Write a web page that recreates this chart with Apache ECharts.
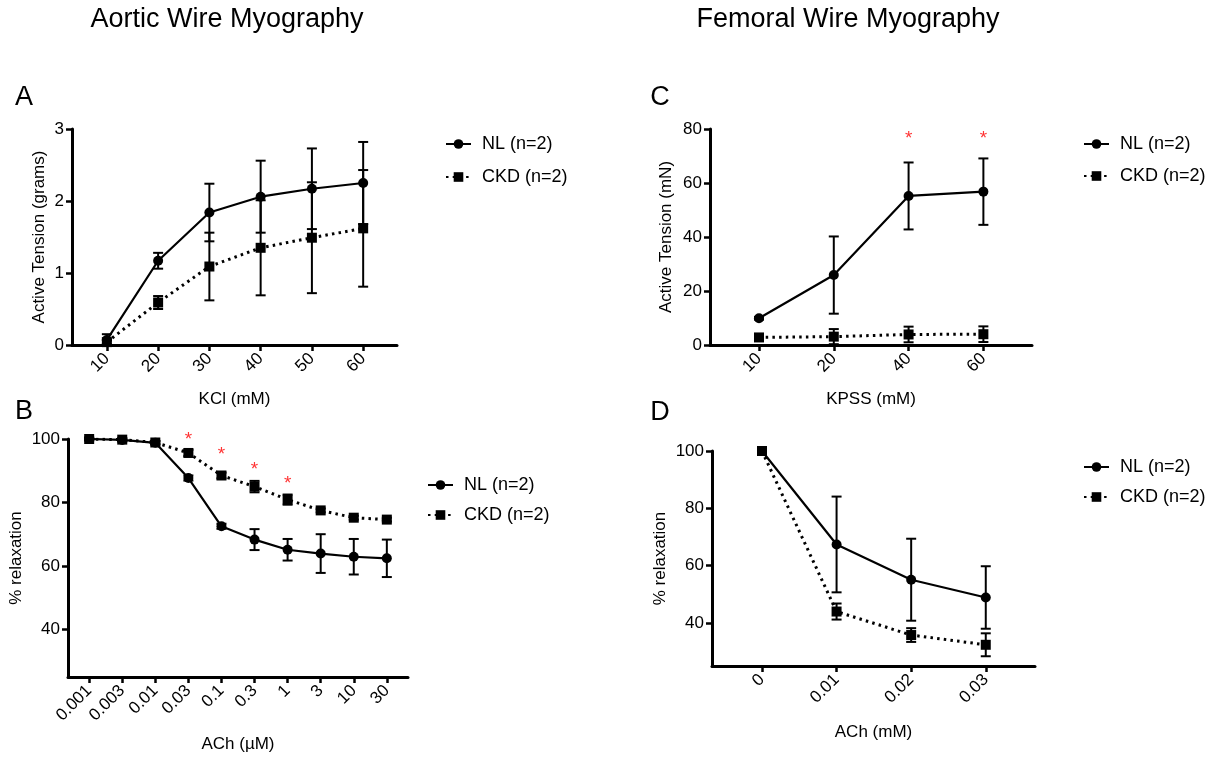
<!DOCTYPE html>
<html>
<head>
<meta charset="utf-8">
<script src="https://cdn.jsdelivr.net/npm/echarts@6/dist/echarts.min.js"></script>
<style>
html, body {margin: 0; padding: 0; background: #fff;}
#chart {width: 1219px; height: 759px;}
</style>
</head>
<body>
<div id="chart"></div>
<script>
// A - aortic KCl
var kclLabels = ['10', '20', '30', '40', '50', '60'];
var kclNL = [0.07, 1.17, 1.84, 2.06, 2.17, 2.25];
var kclNLErr = [0.08, 0.11, 0.40, 0.50, 0.56, 0.57];
var kclCKD = [0.04, 0.59, 1.09, 1.35, 1.49, 1.62];
var kclCKDErr = [0.03, 0.09, 0.47, 0.66, 0.77, 0.81];

// B - aortic ACh
var achLabelsB = ['0.001', '0.003', '0.01', '0.03', '0.1', '0.3', '1', '3', '10', '30'];
var achNLB = [100, 99.7, 98.8, 87.7, 72.5, 68.3, 65.1, 63.9, 62.9, 62.4];
var achNLBErr = [0.4, 0.5, 0.6, 0.8, 0.8, 3.3, 3.4, 6.1, 5.6, 5.9];
var achCKDB = [100, 99.8, 98.9, 95.6, 88.5, 85.0, 80.9, 77.5, 75.2, 74.6];
var achCKDBErr = [0.4, 0.4, 0.5, 1.0, 0.9, 1.8, 1.6, 0.6, 0.6, 0.6];
var starsB = [[3, 101.4], [4, 96.6], [5, 91.9], [6, 87.5]];

// C - femoral KPSS
var kpssLabels = ['10', '20', '40', '60'];
var kpssNL = [9.9, 25.9, 55.2, 56.8];
var kpssNLErr = [0.5, 14.3, 12.4, 12.3];
var kpssCKD = [2.8, 3.1, 3.9, 4.0];
var kpssCKDErr = [0.4, 2.8, 2.9, 2.9];
var starsC = [[2, 78.4], [3, 78.4]];

// D - femoral ACh
var achLabelsD = ['0', '0.01', '0.02', '0.03'];
var achNLD = [100, 67.4, 55.1, 48.9];
var achNLDErr = [0, 16.7, 14.3, 10.9];
var achCKDD = [100, 44.0, 35.8, 32.4];
var achCKDDErr = [0, 2.8, 2.4, 4.0];

var FONT = 'Liberation Sans, Arial, sans-serif';
var NL = 'NL (n=2)', CKD = 'CKD (n=2)';

function pts(vals) {
    return vals.map(function (v, i) { return [i, v]; });
}
function errs(vals, e) {
    return vals.map(function (v, i) { return [i, v - e[i], v + e[i]]; });
}
function range(n) {
    var r = [];
    for (var i = 0; i < n; i++) r.push(i);
    return r;
}

function errItem(params, api) {
    var x = api.value(0);
    var lo = api.coord([x, api.value(1)]);
    var hi = api.coord([x, api.value(2)]);
    var w = 5;
    var st = {stroke: '#000', lineWidth: 2};
    return {
        type: 'group', children: [
            {type: 'line', shape: {x1: lo[0], y1: lo[1], x2: hi[0], y2: hi[1]}, style: st},
            {type: 'line', shape: {x1: lo[0] - w, y1: lo[1], x2: lo[0] + w, y2: lo[1]}, style: st},
            {type: 'line', shape: {x1: hi[0] - w, y1: hi[1], x2: hi[0] + w, y2: hi[1]}, style: st}
        ]
    };
}

var tickStyle = {color: '#000', width: 2.5};

function xAxis(idx, labels, min, max, name, gap) {
    var ticks = range(labels.length);
    return {
        gridIndex: idx, type: 'value', min: min, max: max,
        name: name, nameLocation: 'middle', nameGap: gap,
        nameTextStyle: {fontFamily: FONT, fontSize: 17, color: '#000'},
        axisLine: {onZero: false, lineStyle: {color: '#000', width: 3}},
        axisTick: {show: true, length: 6, lineStyle: tickStyle, customValues: ticks},
        axisLabel: {
            customValues: ticks, rotate: 45, margin: 11,
            fontFamily: FONT, fontSize: 17, color: '#000',
            formatter: function (v) { return labels[Math.round(v)]; }
        },
        splitLine: {show: false}
    };
}

function yAxis(idx, min, max, ticks, name, gap) {
    return {
        gridIndex: idx, type: 'value', min: min, max: max,
        name: name, nameLocation: 'middle', nameGap: gap,
        nameTextStyle: {fontFamily: FONT, fontSize: 17, color: '#000'},
        axisLine: {show: true, onZero: false, lineStyle: {color: '#000', width: 3}},
        axisTick: {show: true, length: 6, lineStyle: tickStyle, customValues: ticks},
        axisLabel: {customValues: ticks, margin: 8, fontFamily: FONT, fontSize: 17, color: '#000'},
        splitLine: {show: false}
    };
}

function panelSeries(idx, nl, nlErr, ckd, ckdErr, stars) {
    var s = [
        {
            type: 'custom', xAxisIndex: idx, yAxisIndex: idx, renderItem: errItem,
            encode: {x: 0, y: [1, 2]}, data: errs(nl, nlErr), z: 3, silent: true
        },
        {
            type: 'custom', xAxisIndex: idx, yAxisIndex: idx, renderItem: errItem,
            encode: {x: 0, y: [1, 2]}, data: errs(ckd, ckdErr), z: 3, silent: true
        },
        {
            name: NL, type: 'line', xAxisIndex: idx, yAxisIndex: idx,
            data: pts(nl), symbol: 'circle', symbolSize: 10, showAllSymbol: true,
            lineStyle: {color: '#000', width: 2.2}, itemStyle: {color: '#000'}, z: 4
        },
        {
            name: CKD, type: 'line', xAxisIndex: idx, yAxisIndex: idx,
            data: pts(ckd), symbol: 'rect', symbolSize: 10, showAllSymbol: true,
            lineStyle: {color: '#000', width: 3, type: [2.5, 4.2]}, itemStyle: {color: '#000'}, z: 4
        }
    ];
    if (stars) {
        s.push({
            type: 'scatter', xAxisIndex: idx, yAxisIndex: idx, data: stars,
            symbolSize: 0, clip: false, silent: true,
            label: {
                show: true, position: 'inside', offset: [0, 5], formatter: '*',
                color: '#ff0000', fontFamily: FONT, fontSize: 19
            }
        });
    }
    return s;
}

function legend(left, top, gap) {
    return {
        data: [NL, CKD], orient: 'vertical', left: left, top: top,
        itemWidth: 25, itemHeight: 12, itemGap: gap,
        textStyle: {fontFamily: FONT, fontSize: 18, color: '#000', padding: [0, 0, 0, 6]},
        selectedMode: false
    };
}

function letter(t, x, y) {
    return {type: 'text', x: x, y: y, style: {text: t, font: '27px ' + FONT, fill: '#000', textAlign: 'center', textVerticalAlign: 'middle'}};
}

var chart = echarts.init(document.getElementById('chart'));
chart.setOption({
    animation: false,
    backgroundColor: '#fff',
    grid: [
        {left: 72, top: 129, width: 325, height: 216},
        {left: 68, top: 439, width: 340, height: 238},
        {left: 710, top: 129, width: 322, height: 216},
        {left: 712, top: 451, width: 323, height: 215}
    ],
    xAxis: [
        xAxis(0, kclLabels, -0.68, 5.66, 'KCl (mM)', 46),
        xAxis(1, achLabelsB, -0.64, 9.64, 'ACh (\u00b5M)', 59),
        xAxis(2, kpssLabels, -0.655, 3.65, 'KPSS (mM)', 46),
        xAxis(3, achLabelsD, -0.67, 3.66, 'ACh (mM)', 58)
    ],
    yAxis: [
        yAxis(0, 0, 3, [0, 1, 2, 3], 'Active Tension (grams)', 24),
        yAxis(1, 25, 100, [40, 60, 80, 100], '% relaxation', 43),
        yAxis(2, 0, 80, [0, 20, 40, 60, 80], 'Active Tension (mN)', 35),
        yAxis(3, 25, 100, [40, 60, 80, 100], '% relaxation', 43)
    ],
    legend: [
        legend(440, 130, 15),
        legend(422, 471, 12),
        legend(1078, 130, 14),
        legend(1078, 453, 12)
    ],
    graphic: [
        {type: 'text', x: 227, y: 20, style: {text: 'Aortic Wire Myography', font: '27px ' + FONT, fill: '#000', textAlign: 'center', textVerticalAlign: 'middle'}},
        {type: 'text', x: 848, y: 20, style: {text: 'Femoral Wire Myography', font: '27px ' + FONT, fill: '#000', textAlign: 'center', textVerticalAlign: 'middle'}},
        letter('A', 24, 98),
        letter('B', 24, 412),
        letter('C', 660, 98),
        letter('D', 660, 413)
    ],
    series: [].concat(
        panelSeries(0, kclNL, kclNLErr, kclCKD, kclCKDErr, null),
        panelSeries(1, achNLB, achNLBErr, achCKDB, achCKDBErr, starsB),
        panelSeries(2, kpssNL, kpssNLErr, kpssCKD, kpssCKDErr, starsC),
        panelSeries(3, achNLD, achNLDErr, achCKDD, achCKDDErr, null)
    )
});
</script>
</body>
</html>
